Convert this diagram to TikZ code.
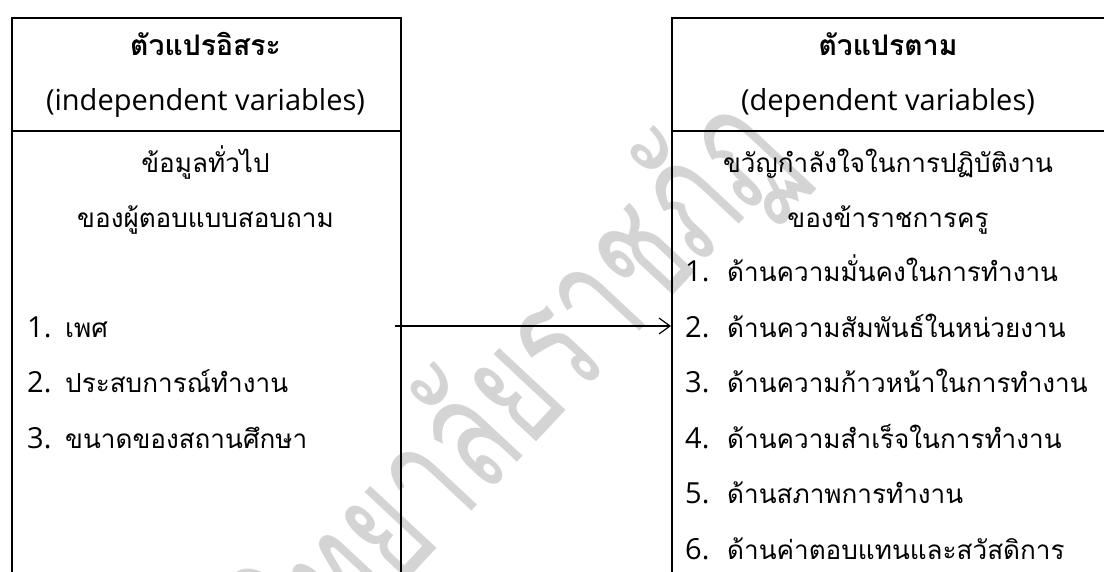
\documentclass[tikz,border=0pt]{standalone}
\usepackage{fontspec}
\setmainfont{Open Sans}
\newfontfamily\thai[Script=Thai,Scale=0.9]{Loma}
\usetikzlibrary{arrows.meta}
\definecolor{wmgray}{RGB}{212,212,212}
\tikzset{
  boxframe/.style={draw=black, line width=2pt, inner sep=0pt, anchor=north west, minimum width=#1, minimum height=620pt},
  divider/.style={draw=black, line width=2pt},
  txt/.style={anchor=base, inner sep=0pt, font=\fontsize{29}{32}\selectfont},
  htxt/.style={anchor=base, inner sep=0pt, font=\fontsize{31.5}{34}\selectfont},
  ltxt/.style={anchor=base west, inner sep=0pt, font=\fontsize{29}{32}\selectfont},
  wm/.style={inner sep=0pt, text=wmgray, rotate=47, font=\fontsize{125}{130}\selectfont},
  arr/.style={draw=black, line width=1.2pt, -{Straight Barb[length=11pt,width=16pt,line width=1.2pt]}},
}
\begin{document}
\begin{tikzpicture}[x=1pt,y=-1pt]
\useasboundingbox (0,0) rectangle (1104,571);
% watermark
\coordinate (wmp) at (572,404);
\node[wm, anchor=base east] (wmark1) at (wmp) {\scalebox{0.95}[1.45]{\thai มหาวิทยาลัย}};
\node[wm, anchor=base west] (wmark2) at (wmp) {\scalebox{0.95}[1.45]{\thai ราชภัฏ}};
% boxes
\node[boxframe=389pt] (L) at (11,17) {};
\node[boxframe=436pt] (R) at (671,17) {};
\coordinate (dv) at (0,130.5);
\draw[divider] (L.west |- dv) -- (L.east |- dv);
\draw[divider] (R.west |- dv) -- (R.east |- dv);
% left texts
\node[htxt] (lh1) at (205.5,55) {\thai\bfseries ตัวแปรอิสระ};
\node[txt] (lh2) at (205.5,110) {(independent variables)};
\node[txt] (ld1) at (205.5,172) {\thai ข้อมูลทั่วไป};
\node[txt] (ld2) at (205.5,227) {\thai ของผู้ตอบแบบสอบถาม};
\node[ltxt] (ln1) at (27,337) {1.};
\node[ltxt] (li1) at (65,337) {\thai เพศ};
\node[ltxt] (ln2) at (27,392.5) {2.};
\node[ltxt] (li2) at (65,392.5) {\thai ประสบการณ์ทำงาน};
\node[ltxt] (ln3) at (27,448) {3.};
\node[ltxt] (li3) at (65,448) {\thai ขนาดของสถานศึกษา};
% right texts
\node[htxt] (rh1) at (888,55) {\thai\bfseries ตัวแปรตาม};
\node[txt] (rh2) at (888,110) {(dependent variables)};
\node[txt] (rd1) at (888,172) {\thai ขวัญกำลังใจในการปฏิบัติงาน};
\node[txt] (rd2) at (888,227) {\thai ของข้าราชการครู};
\node[ltxt] (rn1) at (685,281.5) {1.};
\node[ltxt] (ri1) at (727,281.5) {\thai ด้านความมั่นคงในการทำงาน};
\node[ltxt] (rn2) at (685,337) {2.};
\node[ltxt] (ri2) at (727,337) {\thai ด้านความสัมพันธ์ในหน่วยงาน};
\node[ltxt] (rn3) at (685,392.5) {3.};
\node[ltxt] (ri3) at (727,392.5) {\thai ด้านความก้าวหน้าในการทำงาน};
\node[ltxt] (rn4) at (685,448) {4.};
\node[ltxt] (ri4) at (727,448) {\thai ด้านความสำเร็จในการทำงาน};
\node[ltxt] (rn5) at (685,503.5) {5.};
\node[ltxt] (ri5) at (727,503.5) {\thai ด้านสภาพการทำงาน};
\node[ltxt] (rn6) at (685,559) {6.};
\node[ltxt] (ri6) at (727,559) {\thai ด้านค่าตอบแทนและสวัสดิการ};
% arrow
\coordinate (a0) at (395,326);
\draw[arr] (a0) -- (a0 -| R.west);
\end{tikzpicture}
\end{document}
